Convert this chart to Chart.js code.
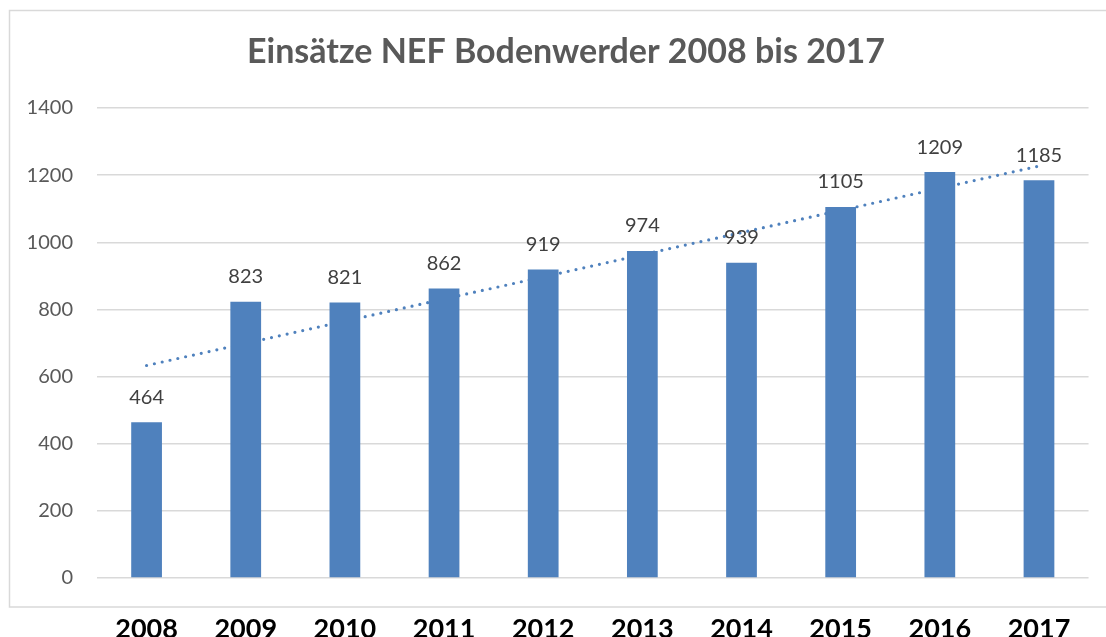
<!DOCTYPE html>
<html lang="de">
<head>
    <meta charset="UTF-8">
    <title>Einsätze NEF Bodenwerder 2008 bis 2017</title>
    <script src="https://cdn.jsdelivr.net/npm/chart.js"></script>
    <style>
        body { margin: 0; padding: 0; background: #fff; }
        canvas { display: block; }
    </style>
</head>
<body>
    <canvas id="nefChart" width="1106" height="637"></canvas>

    <script>
        // Daten
        const years = ['2008', '2009', '2010', '2011', '2012', '2013', '2014', '2015', '2016', '2017'];
        const einsaetze = [464, 823, 821, 862, 919, 974, 939, 1105, 1209, 1185];
        // Trendlinie: nur Anfangs- und Endwert
        const trend = [633, null, null, null, null, null, null, null, null, 1227];

        const barColor = '#4F81BD';
        const gridColor = '#d9d9d9';

        // Rahmen + Titel
        const framePlugin = {
            id: 'frame',
            beforeDraw(chart) {
                const c = chart.ctx;
                c.save();
                c.fillStyle = '#fff';
                c.fillRect(0, 0, chart.width, chart.height);
                c.strokeStyle = gridColor;
                c.lineWidth = 1.5;
                c.beginPath();
                c.moveTo(chart.width, 10.5);
                c.lineTo(9.5, 10.5);
                c.lineTo(9.5, 607);
                c.lineTo(chart.width, 607);
                c.stroke();

                c.fillStyle = '#595959';
                c.font = 'bold 34px Lato';
                c.textAlign = 'center';
                c.textBaseline = 'middle';
                c.fillText('Einsätze NEF Bodenwerder 2008 bis 2017', 566, 52);
                c.restore();
            }
        };

        // Werte über den Balken
        const labelPlugin = {
            id: 'barLabels',
            afterDatasetsDraw(chart) {
                const c = chart.ctx;
                const meta = chart.getDatasetMeta(0);
                c.save();
                c.fillStyle = '#404040';
                c.font = '20px Lato';
                c.textAlign = 'center';
                c.textBaseline = 'middle';
                meta.data.forEach((bar, i) => {
                    c.fillText(einsaetze[i], bar.x, bar.y - 25);
                });
                c.restore();
            }
        };

        const ctx = document.getElementById('nefChart').getContext('2d');
        new Chart(ctx, {
            type: 'bar',
            data: {
                labels: years,
                datasets: [
                    {
                        label: 'Einsätze',
                        data: einsaetze,
                        backgroundColor: barColor,
                        categoryPercentage: 1,
                        barPercentage: 0.31,
                        order: 1
                    },
                    {
                        type: 'line',
                        label: 'Trend',
                        data: trend,
                        spanGaps: true,
                        borderColor: barColor,
                        borderWidth: 3.2,
                        borderDash: [0, 8],
                        borderCapStyle: 'round',
                        pointRadius: 0,
                        fill: false,
                        order: 2
                    }
                ]
            },
            options: {
                responsive: false,
                animation: false,
                layout: {
                    padding: { top: 108, right: 14, left: 0, bottom: 0 }
                },
                plugins: {
                    legend: { display: false },
                    title: { display: false },
                    tooltip: { enabled: false }
                },
                scales: {
                    x: {
                        grid: { display: false, drawTicks: false },
                        border: { display: false },
                        ticks: {
                            color: '#000',
                            font: { family: 'Lato', size: 27, weight: 'bold' },
                            padding: 35,
                            maxRotation: 0
                        },
                        afterFit(scale) { scale.height = 59; }
                    },
                    y: {
                        min: 0,
                        max: 1400,
                        grid: { color: gridColor, lineWidth: 1.5, drawTicks: false },
                        border: { display: false },
                        ticks: {
                            stepSize: 200,
                            color: '#595959',
                            font: { family: 'Lato', size: 20 },
                            padding: 24,
                            callback: (v) => String(v)
                        },
                        afterFit(scale) { scale.width = 97; }
                    }
                }
            },
            plugins: [framePlugin, labelPlugin]
        });
    </script>
</body>
</html>
